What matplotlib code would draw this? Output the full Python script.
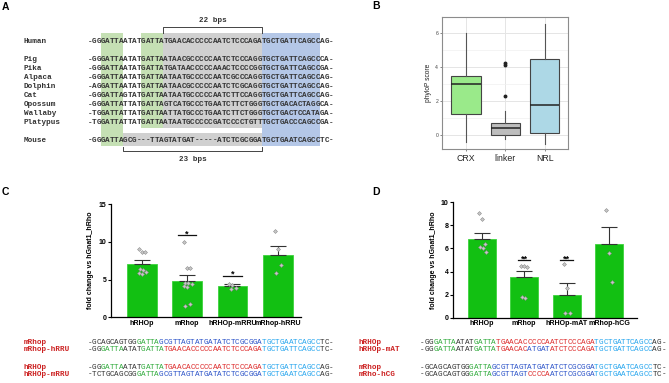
import matplotlib.pyplot as plt
from matplotlib.patches import Rectangle
import numpy as np

plt.rcParams['font.family'] = ['Liberation Sans', 'DejaVu Sans']
MONO = ['Liberation Mono', 'DejaVu Sans Mono']

# ---------------- data ----------------
# panel A: alignment of the regulatory region
species = ['Human', 'Pig', 'Pika', 'Alpaca', 'Dolphin', 'Cat',
           'Opossum', 'Wallaby', 'Platypus', 'Mouse']
alignment = [
    '-GGGATTAATATGATTATGAACACCCCCAATCTCCCAGATGCTGATTCAGCCAG-',
    '-GGGATTAATATGATTAATAACGCCCCCAATCTCCCAGGTGCTGATTCAGCCCA-',
    '-GGGATTAATATGATTATGATAACCCCCAAACTCCCCGGTGCTGATTCAGCCGA-',
    '-GGGATTAATATGATTAATAATGCCCCCAATCGCCCAGGTGCTGATTCAGCCAG-',
    '-AGGATTAATATGATTAATAACGCCCCCAATCTCGCAGGTGCTGATTCAGCCAG-',
    '-GGGATTAGTATGATTAATAATGCCCCCAATCTTCCAGGTGCTGATTCAGCCAG-',
    '-GGGATTATTATGATTAGTCATGCCCTGAATCTTCTGGGTGCTGACACTAGGCA-',
    '-TGGATTATTATGATTAATTATGCCCTGAATCTTCTGGGTGCTGACTCCATAGA-',
    '-TGGATTATTATGATTAATAATGCCCCCGATCCCCTGTTTGCTGACCCAGCCGA-',
    '-GGGATTAGCG---TTAGTATGAT-----ATCTCGCGGATGCTGAATCAGCCTC-',
]
human_gap_label = '22 bps'
mouse_gap_label = '23 bps'

# panel B: phyloP scores
box_groups = ['CRX', 'linker', 'NRL']
box_whislo = [-0.39, -0.25, -0.53]
box_q1 = [1.24, -0.02, 0.12]
box_med = [3.03, 0.40, 1.79]
box_q3 = [3.50, 0.73, 4.50]
box_whishi = [6.00, 1.42, 6.55]
box_outliers = [[], [2.28, 4.12, 4.22], []]
box_colors = ['#9AEA8A', '#BDBDBD', '#ADD8E6']

# panel C: fold change, RRU swaps
c_groups = ['hRHOp', 'mRhop', 'hRHOp-mRRU', 'mRhop-hRRU']
c_mean = [7.10, 4.75, 4.12, 8.30]
c_sem = [0.45, 0.82, 0.25, 1.20]
c_points = [[9.05, 8.70, 8.60, 6.40, 6.20, 6.05, 5.80, 5.70],
            [10.0, 6.55, 6.50, 4.60, 4.50, 4.37, 4.20, 4.00, 1.72, 1.55],
            [4.47, 4.25, 3.90, 3.80],
            [11.45, 9.10, 6.90, 5.90]]
c_stars = ['', '*', '*', '']
c_star_y = [0, 10.85, 5.50, 0]

# panel D: fold change, AT / CG swaps
d_groups = ['hRHOp', 'mRhop', 'hRHOp-mAT', 'mRhop-hCG']
d_mean = [6.79, 3.53, 1.97, 6.42]
d_sem = [0.52, 0.49, 1.01, 1.41]
d_points = [[9.05, 8.53, 6.36, 6.16, 6.00, 5.66],
            [4.50, 4.48, 4.40, 1.80, 1.68],
            [4.65, 2.54, 0.38, 0.38],
            [9.33, 5.58, 3.06]]
d_stars = ['', '**', '**', '']
d_star_y = [0, 4.97, 4.97, 0]

# constructs shown under C and D (segment, colour key)
seq_hrhop = [('-GG', 'k'), ('GATTA', 'g'), ('ATAT', 'k'), ('GATTA', 'g'),
             ('TGAACACCCCCAATCTCCCAGA', 'r'), ('TGCTGATTCAGCC', 'c'), ('AG-', 'k')]
seq_mrhop = [('-GCAGCAGTGG', 'k'), ('GATTA', 'g'),
             ('GCGTTAGTATGATATCTCGCGGA', 'b'), ('TGCTGAATCAGCC', 'c'), ('TC-', 'k')]
seq_mrhop_hrru = [('-GG', 'k'), ('GATTA', 'g'), ('ATAT', 'k'), ('GATTA', 'g'),
                  ('TGAACACCCCCAATCTCCCAGA', 'r'), ('TGCTGATTCAGCC', 'c'), ('TC-', 'k')]
seq_hrhop_mrru = [('-TCTGCAGCGG', 'k'), ('GATTA', 'g'),
                  ('GCGTTAGTATGATATCTCGCGGA', 'b'), ('TGCTGAATCAGCC', 'c'), ('AG-', 'k')]
seq_hrhop_mat = [('-GG', 'k'), ('GATTA', 'g'), ('ATAT', 'k'), ('GATTA', 'g'),
                 ('TGAACAC', 'r'), ('ATGAT', 'b'), ('ATCTCCCAGA', 'r'),
                 ('TGCTGATTCAGCC', 'c'), ('AG-', 'k')]
seq_mrho_hcg = [('-GCAGCAGTGG', 'k'), ('GATTA', 'g'), ('GCGTTAGT', 'b'), ('CCCCA', 'r'),
                ('ATCTCGCGGA', 'b'), ('TGCTGAATCAGCC', 'c'), ('TC-', 'k')]
c_seq_names = ['mRhop', 'mRhop-hRRU', 'hRHOp', 'hRHOp-mRRU']
c_seqs = [seq_mrhop, seq_mrhop_hrru, seq_hrhop, seq_hrhop_mrru]
d_seq_names = ['hRHOp', 'hRHOp-mAT', 'mRhop', 'mRho-hCG']
d_seqs = [seq_hrhop, seq_hrhop_mat, seq_mrhop, seq_mrho_hcg]

seq_colors = {'k': '#333333', 'g': '#2EAA3A', 'r': '#DD2A2A',
              'b': '#2A52C8', 'c': '#25A5EE'}

# ---------------- figure ----------------
W, H = 669, 383
fig = plt.figure(figsize=(W / 100, H / 100), dpi=100)
ov = fig.add_axes([0, 0, 1, 1])
ov.set_xlim(0, W)
ov.set_ylim(H, 0)
ov.axis('off')

CW = 4.47      # character pitch in px
FS = 5.5


def draw_chars(x0, y, segments, weight='normal'):
    i = 0
    for s, key in segments:
        for ch in s:
            ov.text(x0 + (i + 0.5) * CW, y, ch, color=seq_colors[key], ha='center',
                    va='center', family=MONO, fontsize=FS, weight=weight)
            i += 1


# ---- panel A ----
ax0 = 87.5
row_y = [41.7] + [59.3 + 9 * k for k in range(8)] + [140.0]


def cx(idx):
    return ax0 + idx * CW


shade = [  # (start idx, end idx, top, bottom, colour)
    (3, 8, 33.3, 145.5, '#C5E0B4'),
    (12, 17, 33.3, 128.3, '#C5E0B4'),
    (17, 39, 33.3, 128.3, '#D0D0D0'),
    (8, 39, 133.3, 145.5, '#D0D0D0'),
    (39, 52, 33.3, 145.5, '#B4C7E7'),
]
for a, b, t, bt, col in shade:
    ov.add_patch(Rectangle((cx(a), t), cx(b) - cx(a), bt - t, color=col, lw=0, zorder=0))

for name, seq, y in zip(species, alignment, row_y):
    ov.text(24, y, name, family=MONO, fontsize=FS, va='center', ha='left',
            color='#333333', weight='bold')
    draw_chars(ax0, y, [(seq, 'k')], weight='bold')

# brackets
ov.plot([cx(17), cx(17), cx(39), cx(39)], [33.3, 27.3, 27.3, 33.3], color='#444444', lw=0.7)
ov.text((cx(17) + cx(39)) / 2, 20, human_gap_label, family=MONO, fontsize=FS,
        ha='center', va='center', color='#333333', weight='bold')
ov.plot([cx(8), cx(8), cx(39), cx(39)], [146.5, 151, 151, 146.5], color='#444444', lw=0.7)
ov.text((cx(8) + cx(39)) / 2, 159.3, mouse_gap_label, family=MONO, fontsize=FS,
        ha='center', va='center', color='#333333', weight='bold')

# panel letters
for lab, x, y in [('A', 5, 7), ('B', 376, 6), ('C', 5, 192), ('D', 376, 192)]:
    ov.text(x, y, lab, fontsize=7.5, weight='bold', ha='center', va='center')

# ---- panel B ----
axb = fig.add_axes([442.3 / W, 1 - 149.3 / H, 126 / W, 132 / H])
stats = []
for i, g in enumerate(box_groups):
    stats.append(dict(label=g, whislo=box_whislo[i], q1=box_q1[i], med=box_med[i],
                      q3=box_q3[i], whishi=box_whishi[i], fliers=box_outliers[i]))
bp = axb.bxp(stats, positions=[1, 2, 3], widths=0.75, patch_artist=True, showcaps=False,
             boxprops=dict(edgecolor='#444444', linewidth=0.8),
             whiskerprops=dict(color='#555555', linewidth=0.8),
             medianprops=dict(color='#222222', linewidth=1.1),
             flierprops=dict(marker='o', markersize=1.8, markerfacecolor='#222222',
                             markeredgecolor='#222222'))
for patch, col in zip(bp['boxes'], box_colors):
    patch.set_facecolor(col)
axb.set_xlim(0.4, 3.6)
axb.set_ylim(-0.84, 6.94)
axb.set_yticks([0, 2, 4, 6])
axb.set_yticks([1, 3, 5], minor=True)
axb.grid(True, which='major', color='#E5E5E5', lw=0.7)
axb.grid(True, which='minor', axis='y', color='#F0F0F0', lw=0.5)
axb.set_axisbelow(True)
for sp in axb.spines.values():
    sp.set_color('#8C8C8C')
    sp.set_linewidth(0.8)
axb.tick_params(axis='y', labelsize=3.6, length=1.5, width=0.5, color='#555555', pad=1.5,
                labelcolor='#444444')
axb.tick_params(axis='y', which='minor', length=0)
axb.tick_params(axis='x', labelsize=6.3, length=1.5, width=0.5, color='#555555', pad=2,
                labelcolor='#222222')
axb.set_ylabel('phyloP score', fontsize=4.8, labelpad=2, color='#222222')


# ---- bar panels C and D ----
def bar_panel(rect, groups, mean, sem, points, stars, star_y, ymax, yticks, xlim, star_w):
    ax = fig.add_axes(rect)
    x = np.arange(len(groups))
    ax.bar(x, mean, width=0.66, color='#12C012', edgecolor='#3CD23C', lw=0.6, zorder=1)
    ax.errorbar(x, mean, yerr=[np.zeros(len(mean)), sem], fmt='none', ecolor='#333333',
                elinewidth=0.8, capsize=5.5, capthick=0.8, zorder=2)
    for i, pts in enumerate(points):
        n = len(pts)
        off = (np.arange(n) % 3 - 1) * 0.07 + ((np.arange(n) // 3) % 2) * 0.03
        ax.scatter(x[i] + off, pts, s=4, marker='D', facecolor='#C8C8C8',
                   edgecolor='#8A8A8A', linewidth=0.4, zorder=3)
        if stars[i]:
            ax.plot([x[i] - star_w, x[i] + star_w], [star_y[i]] * 2, color='#111111', lw=0.9)
            ax.annotate(stars[i], (x[i], star_y[i]), xytext=(0, -0.8), textcoords='offset points',
                        ha='center', va='baseline', fontsize=6.5, weight='bold')
    ax.set_xlim(*xlim)
    ax.set_ylim(0, ymax)
    ax.set_yticks(yticks)
    ax.set_xticks(x)
    ax.set_xticklabels(groups, weight='bold', fontsize=5.1)
    for lab in ax.get_yticklabels():
        lab.set_fontweight('bold')
    ax.tick_params(axis='y', labelsize=5, length=2, width=0.8, pad=1)
    ax.tick_params(axis='x', length=0, pad=2)
    for s in ['top', 'right']:
        ax.spines[s].set_visible(False)
    for s in ['left', 'bottom']:
        ax.spines[s].set_linewidth(0.9)
    ax.set_ylabel('fold change vs hGnat1_hRho', fontsize=5, weight='bold', labelpad=3)
    return ax


bar_panel([110.5 / W, 1 - 317.3 / H, 190 / W, 113.3 / H], c_groups, c_mean, c_sem, c_points,
          c_stars, c_star_y, 15, [0, 5, 10, 15], (-0.69, 3.5), 0.2)
bar_panel([452.7 / W, 1 - 317.7 / H, 184 / W, 115.4 / H], d_groups, d_mean, d_sem, d_points,
          d_stars, d_star_y, 10, [0, 2, 4, 6, 8, 10], (-0.68, 3.65), 0.15)

# ---- construct sequences under C and D ----
seq_rows_y = [342.3, 349.3, 367.3, 374.2]
for name, segs, y in zip(c_seq_names, c_seqs, seq_rows_y):
    ov.text(24, y, name, family=MONO, fontsize=FS, va='center', ha='left',
            color='#CC2222', weight='bold')
    draw_chars(87.5, y, segs)
for name, segs, y in zip(d_seq_names, d_seqs, seq_rows_y):
    ov.text(358.3, y, name, family=MONO, fontsize=FS, va='center', ha='left',
            color='#CC2222', weight='bold')
    draw_chars(420.0, y, segs)

fig.savefig('out.png', dpi=100)
